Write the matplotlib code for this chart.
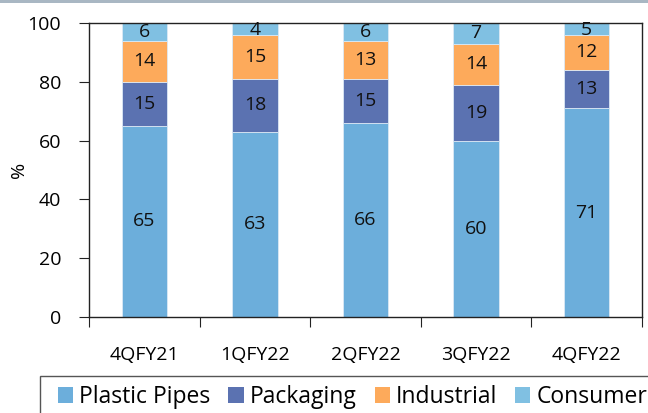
import numpy as np
import matplotlib.pyplot as plt
from matplotlib.patches import Rectangle, Patch

plt.rcParams['font.family'] = ['Open Sans', 'DejaVu Sans']

quarters = ['4QFY21', '1QFY22', '2QFY22', '3QFY22', '4QFY22']
plastic_pipes = [65, 63, 66, 60, 71]
packaging = [15, 18, 15, 19, 13]
industrial = [14, 15, 13, 14, 12]
consumer = [6, 4, 6, 7, 5]

series = [('Plastic Pipes', plastic_pipes, '#6caedb'),
          ('Packaging', packaging, '#5b72b1'),
          ('Industrial', industrial, '#fdaa5b'),
          ('Consumer', consumer, '#80c0e2')]

fig = plt.figure(figsize=(6.48, 4.13), dpi=100)
ax = fig.add_axes([89/648, 1-317/413, 553/648, 294/413])

x = np.arange(len(quarters))
bottom = np.zeros(len(quarters))
for name, vals, col in series:
    vals = np.array(vals, dtype=float)
    ax.bar(x, vals, 0.41, bottom=bottom, color=col, edgecolor='#dbe9f5',
           linewidth=0.6, label=name)
    for xi, b, v in zip(x, bottom, vals):
        yc = min(b + v / 2, 100 - 2.4) if name == 'Consumer' else b + v / 2
        ax.text(xi, yc, f'{v:.0f}', ha='center', va='center',
                fontsize=14, color='#111111')
    bottom += vals

ax.set_xlim(-0.5, len(quarters) - 0.5)
ax.set_ylim(0, 100)
ax.set_yticks(range(0, 101, 20))
ax.set_xticks(np.arange(-0.5, len(quarters), 1.0))
ax.set_xticklabels([])
ax.set_xticks(x, minor=True)
ax.set_xticklabels(quarters, minor=True)
ax.tick_params(axis='x', which='minor', length=0, pad=21, labelsize=14)
ax.tick_params(axis='x', which='major', length=7, direction='out', color='#222222')
ax.tick_params(axis='y', length=7, direction='out', labelsize=14, pad=13,
               color='#222222')
ax.set_ylabel('%', fontsize=14)
ax.yaxis.set_label_coords(-61/553, 0.5)
for s in ax.spines.values():
    s.set_color('#222222')
    s.set_linewidth(1.0)

# band along the top edge
fig.patches.append(Rectangle((0, 1-3/413), 1, 3/413, transform=fig.transFigure,
                             facecolor='#a9b7c3', edgecolor='none'))

# legend frame running past the figure edge
fig.patches.append(Rectangle((40/648, -0.05), 1.0, 0.05 + 1-376/413,
                             transform=fig.transFigure, facecolor='none',
                             edgecolor='#555555', linewidth=1.0))
handles = [Patch(facecolor=c, edgecolor='none') for _, _, c in series]
fig.legend(handles, [n for n, _, _ in series], loc='center left',
           bbox_to_anchor=(58/648, 1-397/413), ncol=4, frameon=False,
           fontsize=16.5, handlelength=0.66, handleheight=0.66,
           handletextpad=0.27, columnspacing=0.78, borderaxespad=0,
           borderpad=0)

fig.savefig('out.png', dpi=100)
